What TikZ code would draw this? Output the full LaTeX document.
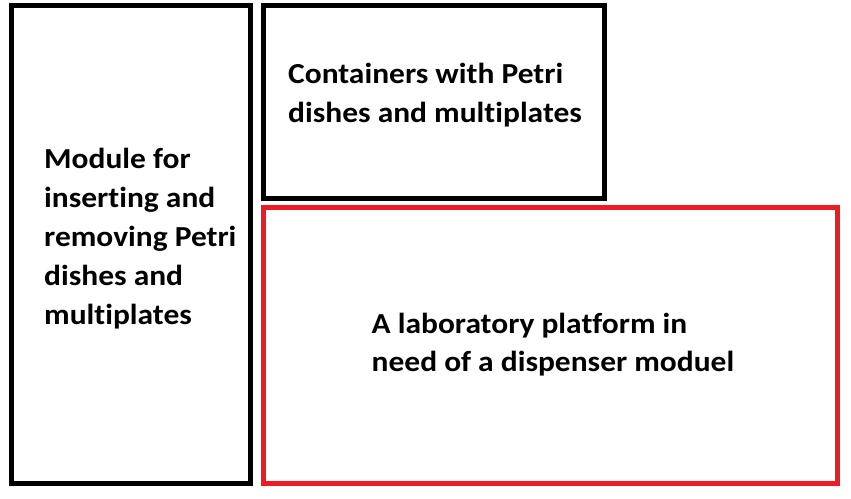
\documentclass[tikz,border=0pt]{standalone}
\usepackage{fontspec}
\setmainfont{Carlito}[Ligatures={NoCommon},FakeStretch=1.085]
\definecolor{paintred}{RGB}{237,28,36}
\begin{document}
\begin{tikzpicture}[x=1pt,y=-1pt,
  box/.style={draw=black,line width=5pt,inner sep=0pt,rectangle},
  redbox/.style={box,draw=paintred},
  txt/.style={anchor=base west,inner sep=0pt,font=\fontsize{29}{38.7}\selectfont\bfseries}]
\useasboundingbox (0,0) rectangle (851,498);
\node[box,minimum width=239pt,minimum height=478pt] (mod) at (131,244.5) {};
\node[box,minimum width=341pt,minimum height=192.5pt] (cont) at (434,101.75) {};
\node[redbox,minimum width=573.5pt,minimum height=276pt] (plat) at (550.25,345.5) {};
% left text
\node[txt] (m1) at (44,168) {Module for};
\node[txt] (m2) at (44,207) {inserting and};
\node[txt] (m3) at (44,246) {removing Petri};
\node[txt] (m4) at (44,285) {dishes and};
\node[txt] (m5) at (44,324) {multiplates};
% top text
\node[txt] (c1) at (288,83.3) {Containers with Petri};
\node[txt] (c2) at (288,122) {dishes and multiplates};
% red text
\node[txt] (p1) at (371.5,333) {A laboratory platform in};
\node[txt] (p2) at (371.5,371.7) {need of a dispenser moduel};
\end{tikzpicture}
\end{document}
